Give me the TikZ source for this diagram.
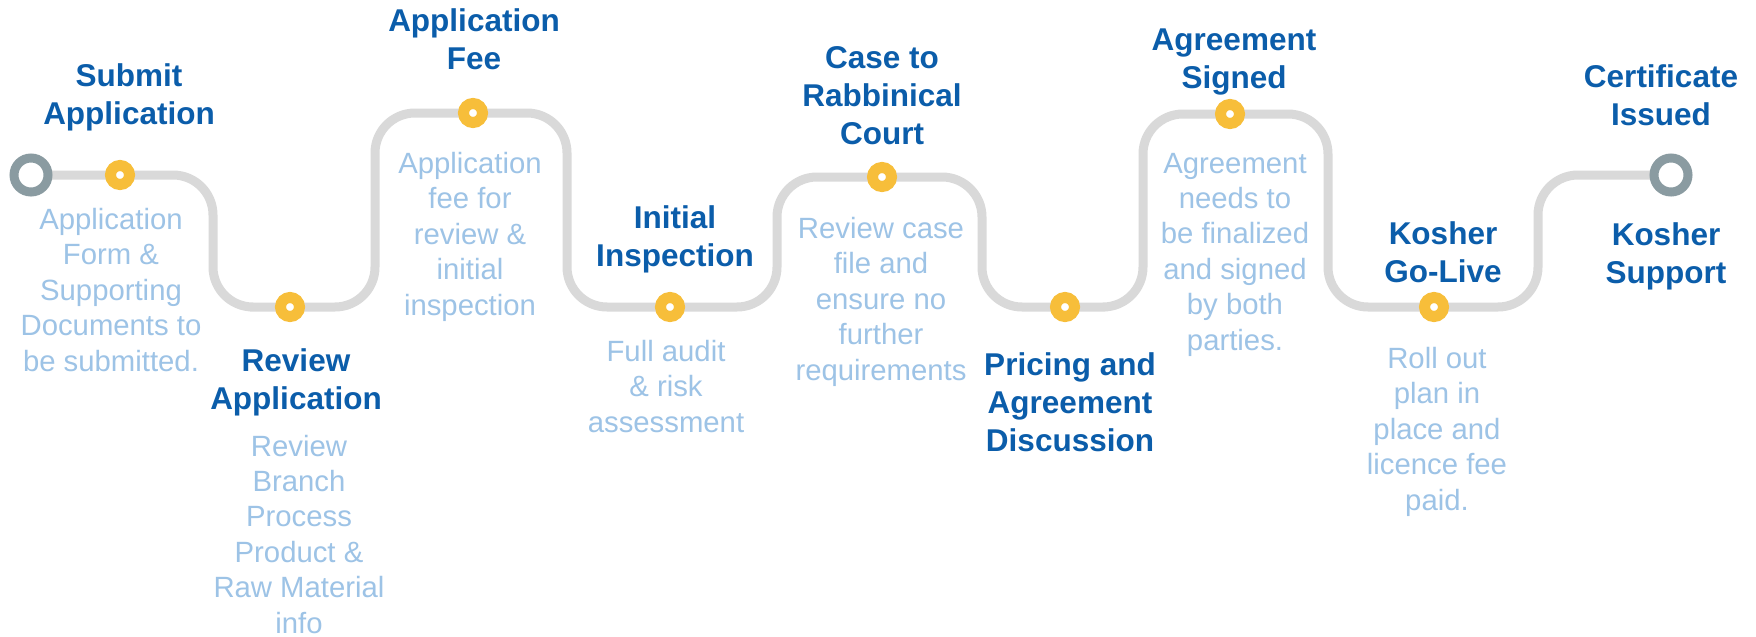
\documentclass[tikz,border=0pt]{standalone}
\usepackage{fontspec}
\setmainfont{Liberation Sans}
\definecolor{trackgray}{RGB}{217,217,217}
\definecolor{dotyellow}{RGB}{247,190,58}
\definecolor{ringgray}{RGB}{138,155,161}
\definecolor{titleblue}{RGB}{11,93,170}
\definecolor{descblue}{RGB}{157,195,230}
\pgfdeclarelayer{bg}
\pgfsetlayers{bg,main}
\begin{document}
\begin{tikzpicture}[x=1pt,y=-1pt,
  track/.style={draw=trackgray,line width=9pt,rounded corners=40pt},
  ring/.style={circle,draw=ringgray,line width=9pt,fill=white,minimum size=34pt,inner sep=0pt},
  dot/.style={circle,draw=dotyellow,fill=white,line width=11pt,minimum size=19pt,inner sep=0pt},
  title/.style={font=\bfseries\fontsize{31.5}{37.7}\selectfont,text=titleblue,align=center,anchor=base,inner sep=0pt},
  desc/.style={font=\fontsize{29.3}{35.4}\selectfont,text=descblue,align=center,anchor=base,inner sep=0pt}]
\useasboundingbox (0,0) rectangle (1756,637);

% track end points and stops
\node[ring] (start) at (31,175) {};
\node[ring] (finish) at (1671,175) {};
\node[dot] (d1) at (120,175) {};
\node[dot] (d2) at (290,307) {};
\node[dot] (d3) at (473,113) {};
\node[dot] (d4) at (670,307) {};
\node[dot] (d5) at (882,177) {};
\node[dot] (d6) at (1065,307) {};
\node[dot] (d7) at (1230,114) {};
\node[dot] (d8) at (1434,307) {};

\begin{pgfonlayer}{bg}
\fill[white] (0,0) rectangle (1756,637);
\draw[track] (start.center) -- (d1.center) -- (213,175) -- (213,307) -- (d2.center)
  -- (375,307) -- (375,113) -- (d3.center) -- (567,113) -- (567,307) -- (d4.center)
  -- (777,307) -- (777,177) -- (d5.center) -- (982,177) -- (982,307) -- (d6.center)
  -- (1143,307) -- (1143,114) -- (d7.center) -- (1328,114) -- (1328,307) -- (d8.center)
  -- (1538,307) -- (1538,175) -- (finish.center);
\end{pgfonlayer}

% titles (anchor = baseline of the last line)
\node[title] (t1) at (129,124) {Submit\\Application};
\node[title] (t2) at (296,409) {Review\\Application};
\node[title] (t3) at (474,69) {Application\\Fee};
\node[title] (t4) at (675,266) {Initial\\Inspection};
\node[title] (t5) at (882,144) {Case to\\Rabbinical\\Court};
\node[title] (t6) at (1070,451) {Pricing and\\Agreement\\Discussion};
\node[title] (t7) at (1234,88) {Agreement\\Signed};
\node[title] (t8) at (1443,282) {Kosher\\Go-Live};
\node[title] (t9) at (1661,125) {Certificate\\Issued};
\node[title] (t10) at (1666,283) {Kosher\\Support};

% descriptions (anchor = baseline of the last line)
\node[desc] (s1) at (111,371) {Application\\Form \&\\Supporting\\Documents to\\be submitted.};
\node[desc] (s2) at (299,633) {Review\\Branch\\Process\\Product \&\\Raw Material\\info};
\node[desc] (s3) at (470,315) {Application\\fee for\\review \&\\initial\\inspection};
\node[desc] (s4) at (666,432) {Full audit\\\& risk\\assessment};
\node[desc] (s5) at (881,380) {Review case\\file and\\ensure no\\further\\requirements};
\node[desc] (s7) at (1235,350) {Agreement\\needs to\\be finalized\\and signed\\by both\\parties.};
\node[desc] (s8) at (1437,510) {Roll out\\plan in\\place and\\licence fee\\paid.};
\end{tikzpicture}
\end{document}
